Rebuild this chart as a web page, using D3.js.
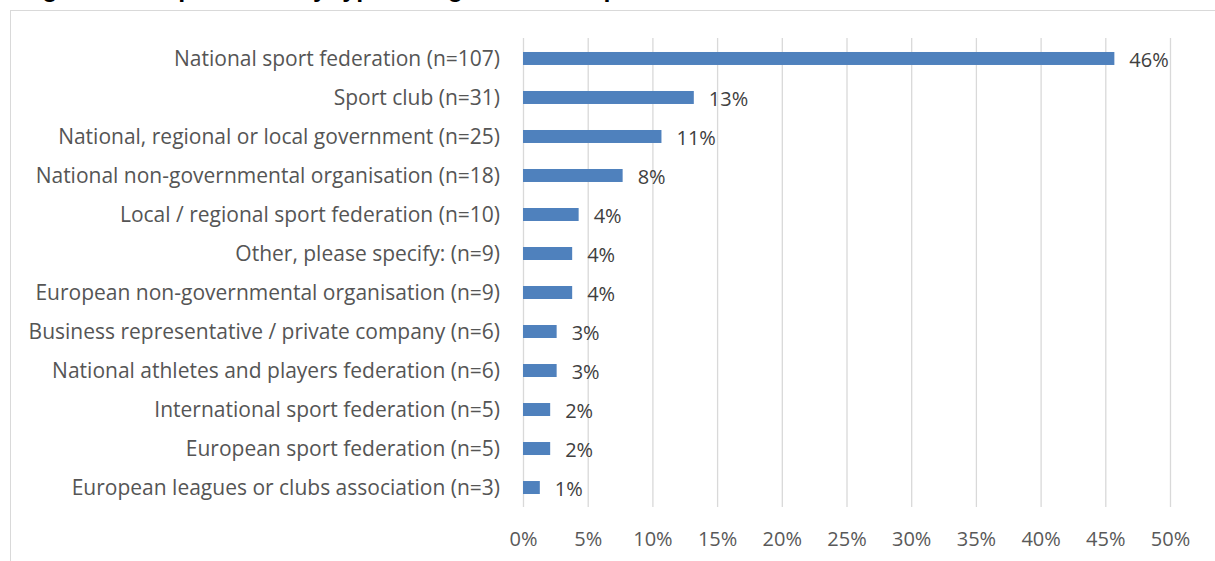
<!DOCTYPE html>
<html>
<head>
<meta charset="utf-8">
<script src="https://cdn.jsdelivr.net/npm/d3@7"></script>
<style>
  body { margin: 0; background: #fff; }
  svg { display: block; font-family: "Open Sans", "Noto Sans", sans-serif; }
</style>
</head>
<body>
<script>
// chart data (share of respondents, %)
var categories = [
    "National sport federation (n=107)",
    "Sport club (n=31)",
    "National, regional or local government (n=25)",
    "National non-governmental organisation (n=18)",
    "Local / regional sport federation (n=10)",
    "Other, please specify: (n=9)",
    "European non-governmental organisation (n=9)",
    "Business representative / private company (n=6)",
    "National athletes and players federation (n=6)",
    "International sport federation (n=5)",
    "European sport federation (n=5)",
    "European leagues or clubs association (n=3)"
];
var values = [45.7, 13.2, 10.7, 7.7, 4.3, 3.8, 3.8, 2.6, 2.6, 2.1, 2.1, 1.3];
var tickValues = [0, 5, 10, 15, 20, 25, 30, 35, 40, 45, 50];
var titleText = "Figure 3: Respondents by type of organisation represented";

var W = 1215, H = 561;
var margin = {top: 39, right: 45, bottom: 54, left: 523};

var svg = d3.select("body").append("svg")
    .attr("width", W)
    .attr("height", H);

// chart frame (runs past the right and bottom edge)
svg.append("rect")
    .attr("x", 10.5).attr("y", 10.5)
    .attr("width", 1230).attr("height", 600)
    .style("fill", "none")
    .style("stroke", "#d9d9d9")
    .style("stroke-width", 1);

// title, mostly cut off above the picture like in the original
svg.append("text")
    .text(titleText)
    .attr("x", 20)
    .attr("y", -3)
    .style("font-family", "'Liberation Sans', Arial, sans-serif")
    .style("font-weight", "bold")
    .style("font-size", "25px")
    .style("fill", "#000");

var x = d3.scaleLinear().domain([0, 50]).range([margin.left, 1170]);
var y = d3.scaleBand().domain(categories)
    .range([margin.top, H - margin.bottom])
    .paddingInner(0.667).paddingOuter(0.333);

// gridlines
var grid = d3.axisBottom(x).tickValues(tickValues)
    .tickSize(-(H - margin.bottom - margin.top + 1)).tickFormat("");
svg.append("g")
    .attr("transform", "translate(0," + (H - margin.bottom) + ")")
    .call(grid)
    .call(function(g){
        g.select(".domain").remove();
        g.selectAll("line").style("stroke", "#d9d9d9").style("stroke-width", 1.3);
    });

// x tick labels
var xAxis = d3.axisBottom(x).tickValues(tickValues)
    .tickSize(0).tickPadding(0)
    .tickFormat(function(d){ return d + "%"; });
svg.append("g")
    .attr("transform", "translate(0," + 532 + ")")
    .call(xAxis)
    .call(function(g){
        g.select(".domain").remove();
        g.selectAll("text")
            .attr("dy", "0.71em")
            .style("font-family", "'Open Sans', sans-serif")
            .style("font-size", "20px")
            .style("fill", "#595959");
    });

// category labels
var yAxis = d3.axisLeft(y).tickSize(0).tickPadding(23);
svg.append("g")
    .attr("transform", "translate(" + margin.left + ",1)")
    .call(yAxis)
    .call(function(g){
        g.select(".domain").remove();
        g.selectAll("text")
            .style("font-family", "'Open Sans', sans-serif")
            .style("font-size", "21px")
            .style("fill", "#555555");
    });

// bars
svg.append("g").selectAll("rect")
    .data(values)
    .enter()
    .append("rect")
    .attr("x", x(0))
    .attr("y", function(d, i){ return y(categories[i]); })
    .attr("width", function(d){ return x(d) - x(0); })
    .attr("height", y.bandwidth())
    .style("fill", "#4f81bd");

// value labels
svg.append("g").selectAll("text")
    .data(values)
    .enter()
    .append("text")
    .text(function(d){ return Math.round(d) + "%"; })
    .attr("x", function(d){ return x(d) + 15; })
    .attr("y", function(d, i){ return y(categories[i]) + y.bandwidth() / 2 + 1; })
    .attr("dy", "0.36em")
    .style("font-size", "20px")
    .style("fill", "#404040");
</script>
</body>
</html>
